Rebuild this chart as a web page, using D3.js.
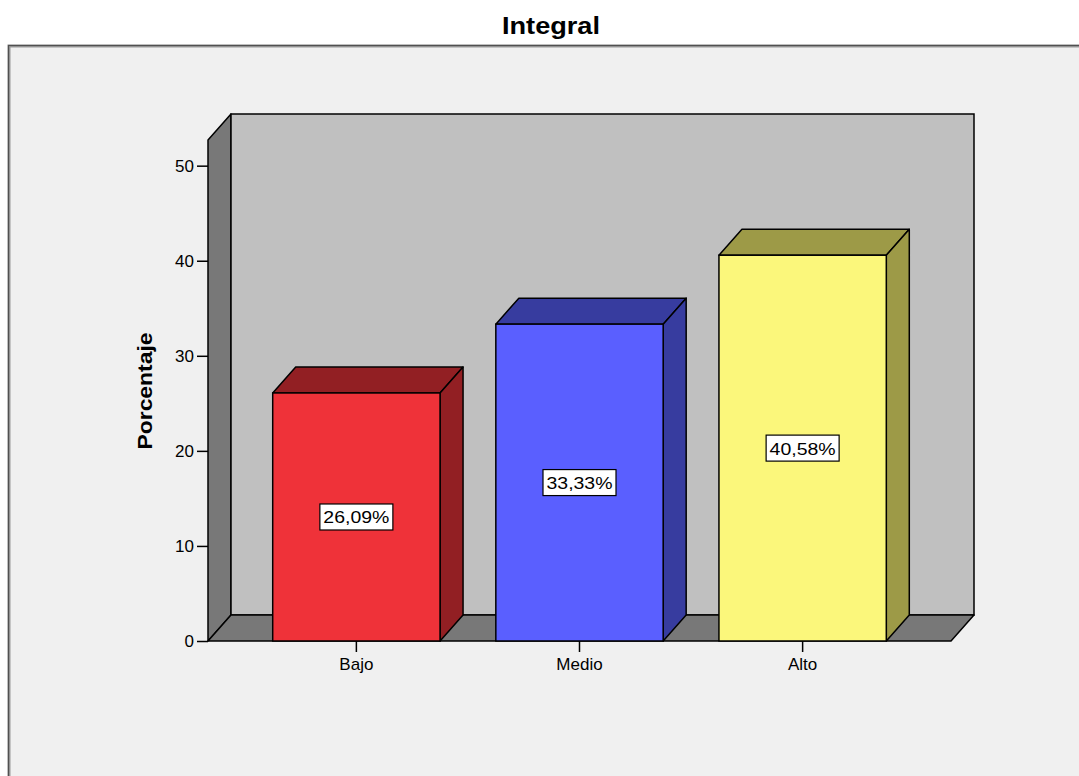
<!DOCTYPE html>
<html><head><meta charset="utf-8">
<script src="https://cdn.jsdelivr.net/npm/d3@7"></script>
<style>html,body{margin:0;padding:0;background:#fff;}svg{display:block;}</style>
</head><body>
<script>
const categories = ["Bajo", "Medio", "Alto"];
const values = [26.09, 33.33, 40.58];
const yTicks = [0, 10, 20, 30, 40, 50];
const frontColors = ["#ef3239", "#5a5fff", "#fbf77b"];
const darkColors = ["#921f23", "#373c9f", "#9d9a47"];
const title = "Integral";
const yTitle = "Porcentaje";

const W = 1079, H = 776;
const svg = d3.select("body").append("svg").attr("width", W).attr("height", H)
  .style("font-family", "'Liberation Sans', Arial, sans-serif");

// frame
svg.append("rect").attr("x", 0).attr("y", 0).attr("width", W).attr("height", H).attr("fill", "#fff");
svg.append("rect").attr("x", 9).attr("y", 46).attr("width", W + 20).attr("height", H + 20)
  .attr("fill", "#f0f0f0").attr("stroke", "#9a9a9a").attr("stroke-width", 3);
svg.append("rect").attr("x", 8.5).attr("y", 45.5).attr("width", W + 20).attr("height", H + 20)
  .attr("fill", "none").attr("stroke", "#505050").attr("stroke-width", 1.2);

svg.append("text").attr("x", 551).attr("y", 34).attr("text-anchor", "middle")
  .attr("font-size", 23).attr("font-weight", "bold").attr("fill", "#000")
  .attr("textLength", 98).attr("lengthAdjust", "spacingAndGlyphs").text(title);

const x0 = 208, x1 = 951;
const dx = 23, dy = -26;
const y = d3.scaleLinear().domain([0, 52.7]).range([641, 140]);
const x = d3.scaleBand().domain(categories).range([x0, x1]).paddingInner(0.25).paddingOuter(0.29);

const Y0 = y(0), Ym = y(52.7);
const poly = pts => pts.map(p => p.join(",")).join(" ");
const g = svg.append("g");

// left wall
g.append("polygon").attr("points", poly([[x0, Y0], [x0, Ym], [x0 + dx, Ym + dy], [x0 + dx, Y0 + dy]]))
  .attr("fill", "#787878").attr("stroke", "#000").attr("stroke-width", 1.5).attr("stroke-linejoin", "round");
// back wall
g.append("rect").attr("x", x0 + dx).attr("y", Ym + dy).attr("width", x1 - x0).attr("height", Y0 - Ym)
  .attr("fill", "#c0c0c0").attr("stroke", "#000").attr("stroke-width", 1.5);
// floor
g.append("polygon").attr("points", poly([[x0, Y0], [x1, Y0], [x1 + dx, Y0 + dy], [x0 + dx, Y0 + dy]]))
  .attr("fill", "#787878").attr("stroke", "#000").attr("stroke-width", 1.5).attr("stroke-linejoin", "round");

// bars
const bars = g.selectAll("g.bar").data(categories).join("g").attr("class", "bar");
bars.each(function (c, i) {
  const b = d3.select(this);
  const bx = x(c), bw = x.bandwidth(), by = y(values[i]);
  b.append("polygon").attr("points", poly([[bx, by], [bx + dx, by + dy], [bx + bw + dx, by + dy], [bx + bw, by]]))
    .attr("fill", darkColors[i]).attr("stroke", "#000").attr("stroke-width", 1.5).attr("stroke-linejoin", "round");
  b.append("polygon").attr("points", poly([[bx + bw, by], [bx + bw + dx, by + dy], [bx + bw + dx, Y0 + dy], [bx + bw, Y0]]))
    .attr("fill", darkColors[i]).attr("stroke", "#000").attr("stroke-width", 1.5).attr("stroke-linejoin", "round");
  b.append("rect").attr("x", bx).attr("y", by).attr("width", bw).attr("height", Y0 - by)
    .attr("fill", frontColors[i]).attr("stroke", "#000").attr("stroke-width", 1.5);
  // label
  const cx = bx + bw / 2, cy = y(values[i] / 2);
  b.append("rect").attr("x", cx - 36.5).attr("y", cy - 13).attr("width", 73).attr("height", 26)
    .attr("fill", "#fff").attr("stroke", "#000").attr("stroke-width", 1.2);
  b.append("text").attr("x", cx).attr("y", cy + 6.5).attr("text-anchor", "middle")
    .attr("font-size", 17).attr("fill", "#000").attr("textLength", 66).attr("lengthAdjust", "spacingAndGlyphs")
    .text(d3.format(".2f")(values[i]).replace(".", ",") + "%");
});

// axes
const yAxis = svg.append("g").attr("transform", `translate(${x0},0)`)
  .call(d3.axisLeft(y).tickValues(yTicks).tickSize(11).tickPadding(3).tickFormat(d3.format("d")));
yAxis.select(".domain").remove();
yAxis.selectAll(".tick line").attr("stroke", "#000").attr("stroke-width", 1.5);
yAxis.selectAll(".tick text").attr("font-size", 17).attr("fill", "#000")
  .attr("font-family", "'Liberation Sans', Arial, sans-serif");

const xAxis = svg.append("g").attr("transform", `translate(0,${Y0})`)
  .call(d3.axisBottom(x).tickSize(11).tickPadding(6));
xAxis.select(".domain").remove();
xAxis.selectAll(".tick line").attr("stroke", "#000").attr("stroke-width", 1.5);
xAxis.selectAll(".tick text").attr("font-size", 17).attr("fill", "#000")
  .attr("font-family", "'Liberation Sans', Arial, sans-serif");

svg.append("text").attr("transform", "translate(152,391) rotate(-90)").attr("text-anchor", "middle")
  .attr("font-size", 20).attr("font-weight", "bold").attr("fill", "#000")
  .attr("textLength", 117).attr("lengthAdjust", "spacingAndGlyphs").text(yTitle);
</script>
</body></html>
